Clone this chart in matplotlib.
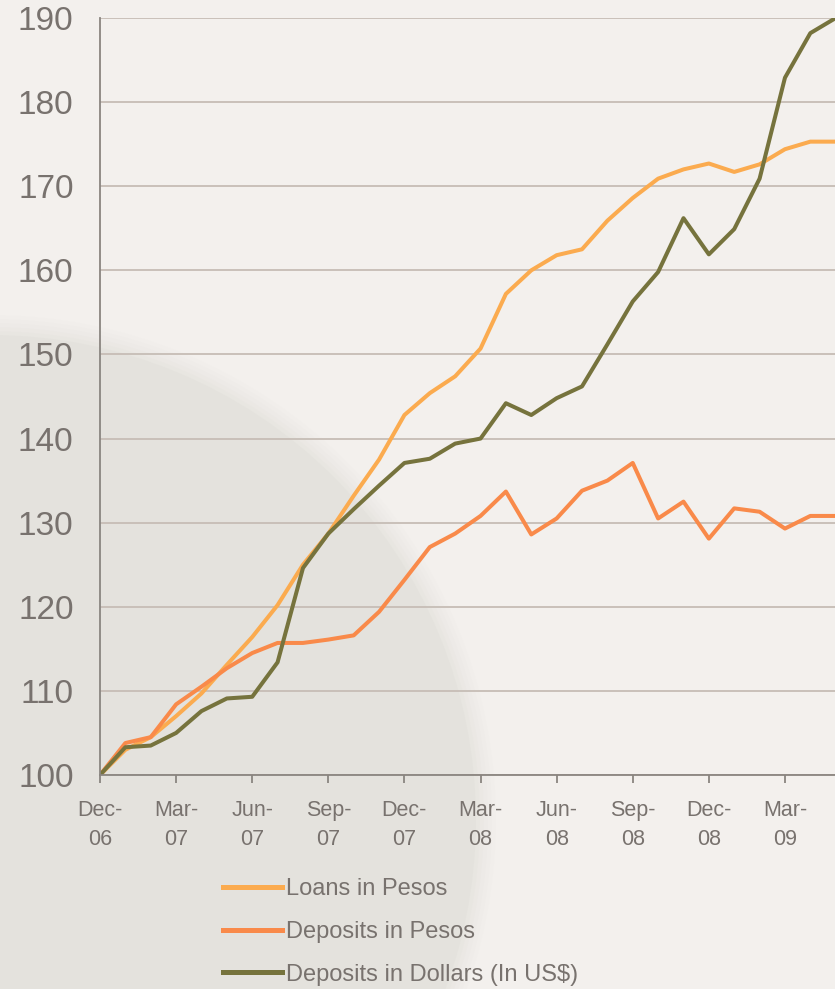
import matplotlib
matplotlib.use('Agg')
import matplotlib.pyplot as plt
from matplotlib.patches import Circle

plt.rcParams['font.family'] = ['Liberation Sans', 'DejaVu Sans']

# monthly index values, Dec-06 = 100
months = ['Dec-06', 'Jan-07', 'Feb-07', 'Mar-07', 'Apr-07', 'May-07', 'Jun-07', 'Jul-07',
          'Aug-07', 'Sep-07', 'Oct-07', 'Nov-07', 'Dec-07', 'Jan-08', 'Feb-08', 'Mar-08',
          'Apr-08', 'May-08', 'Jun-08', 'Jul-08', 'Aug-08', 'Sep-08', 'Oct-08', 'Nov-08',
          'Dec-08', 'Jan-09', 'Feb-09', 'Mar-09', 'Apr-09', 'May-09']
loans_pesos = [100, 103.0, 104.5, 107.0, 109.7, 113.1, 116.4, 120.2, 125.0, 128.7,
               133.2, 137.5, 142.8, 145.4, 147.4, 150.7, 157.2, 160.0, 161.8, 162.5,
               165.9, 168.6, 170.9, 172.0, 172.7, 171.7, 172.6, 174.4, 175.3, 175.3]
deposits_pesos = [100, 103.8, 104.5, 108.4, 110.5, 112.7, 114.5, 115.7, 115.7, 116.1,
                  116.6, 119.4, 123.2, 127.1, 128.7, 130.8, 133.7, 128.6, 130.5, 133.8,
                  135.0, 137.1, 130.5, 132.5, 128.1, 131.7, 131.3, 129.3, 130.8, 130.8]
deposits_dollars = [100, 103.3, 103.5, 105.0, 107.6, 109.1, 109.3, 113.4, 124.6, 128.7,
                    131.6, 134.4, 137.1, 137.6, 139.4, 140.0, 144.2, 142.8, 144.8, 146.2,
                    151.2, 156.3, 159.8, 166.2, 161.9, 164.9, 170.9, 182.9, 188.2, 190.0]
tick_labels = ['Dec-\n06', 'Mar-\n07', 'Jun-\n07', 'Sep-\n07', 'Dec-\n07',
               'Mar-\n08', 'Jun-\n08', 'Sep-\n08', 'Dec-\n08', 'Mar-\n09']
series_names = ['Loans in Pesos', 'Deposits in Pesos', 'Deposits in Dollars (In US$)']

text_grey = '#78726e'
W, H = 835, 989

fig = plt.figure(figsize=(W / 100, H / 100), dpi=100, facecolor='#f3f0ed')

# decorative grey disc in the background (pixel coords), soft edge
for k, a in zip(range(6), [0.06, 0.08, 0.10, 0.12, 0.15, 0.30]):
    fig.add_artist(Circle((-9, H - 820), 505 - k * 4, transform=None,
                          facecolor='#dddbd6', edgecolor='none', alpha=a, zorder=-10))

ax = fig.add_axes([100 / W, (H - 775) / H, 735.7 / W, 757 / H])
ax.set_facecolor('none')

x = list(range(len(months)))
ax.plot(x, loans_pesos, color='#fbab4f', lw=2.9, label=series_names[0])
ax.plot(x, deposits_pesos, color='#f98a4a', lw=2.9, label=series_names[1])
ax.plot(x, deposits_dollars, color='#76733d', lw=2.9, label=series_names[2])

ax.set_xlim(0, 29)
ax.set_ylim(100, 190)
ax.set_yticks(range(100, 191, 10))
ax.set_xticks(range(0, 30, 3))
ax.set_xticklabels(tick_labels, linespacing=1.5)

ax.grid(axis='y', color='#c9c0b9', lw=1.4)
ax.set_axisbelow(True)
for side in ['top', 'right']:
    ax.spines[side].set_visible(False)
for side in ['left', 'bottom']:
    ax.spines[side].set_color('#8a8580')
    ax.spines[side].set_linewidth(1.3)

ax.tick_params(axis='y', length=0, pad=19, labelsize=24, labelcolor=text_grey)
ax.tick_params(axis='x', length=6, width=1.3, color='#8a8580', pad=12,
               labelsize=15.5, labelcolor=text_grey)

leg = fig.legend(loc='upper left', bbox_to_anchor=(223 / W, (H - 878) / H),
                 frameon=False, fontsize=17, handlelength=2.5, handletextpad=0.16,
                 labelspacing=0.88, borderpad=0, borderaxespad=0)
for t in leg.get_texts():
    t.set_color(text_grey)
for h in leg.get_lines():
    h.set_linewidth(3.6)

fig.savefig('out.png', dpi=100, facecolor=fig.get_facecolor())
